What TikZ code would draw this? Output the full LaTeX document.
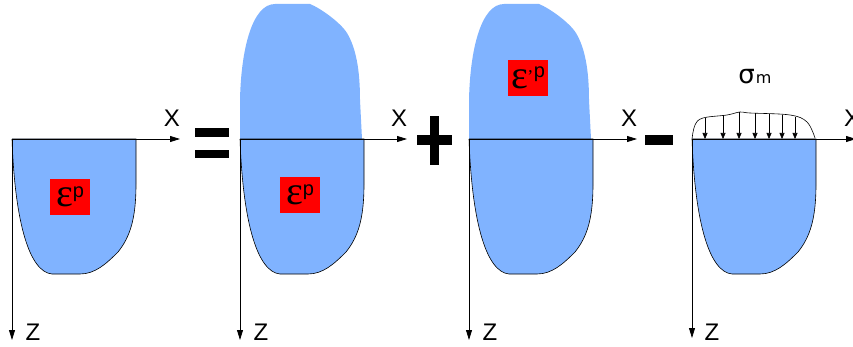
\documentclass[tikz,border=0pt]{standalone}
\usepackage{fontspec}
\setmainfont{Liberation Sans}
\newfontfamily\grk{Liberation Serif}
\newfontfamily\dvs{DejaVu Sans}
\usetikzlibrary{arrows.meta}
\definecolor{fillblue}{HTML}{80B3FF}
\tikzset{
  axisline/.style={line width=0.8pt, -{Triangle[length=10pt,width=6pt]}},
  lowerbody/.style={fill=fillblue, draw=black, line width=0.6pt},
  upperbody/.style={fill=fillblue},
  axlabel/.style={inner sep=0pt, font=\fontsize{24}{24}\selectfont},
  epsbox/.style={fill=red, minimum width=40pt, minimum height=36pt, inner sep=0pt},
  loadarrow/.style={line width=0.6pt, -{Triangle[length=6pt,width=5pt]}},
  opbar/.style={fill=black},
  pics/lowershape/.style={code={
    \path[lowerbody] (0,0) -- (124,0) -- (124,45) .. controls (124,80) and (118,98) .. (106,113)
      .. controls (94,125) and (83,135) .. (68,135) -- (40,135)
      .. controls (18,133) and (3,86) .. (0,0);
  }},
  pics/uppershape/.style={code={
    \path[upperbody] (0,0) -- (0,-39) .. controls (1,-89) and (12,-135) .. (35,-135) -- (70,-135)
      .. controls (80,-131) and (100,-117) .. (107,-106)
      .. controls (116,-91) and (120,-69) .. (120,-39) -- (122,0) -- cycle;
  }}
}
\newcommand{\epsp}{{\grk\fontsize{40}{40}\selectfont ε}\raisebox{9pt}{\fontsize{20}{20}\selectfont p}}
\newcommand{\epspp}{{\grk\fontsize{40}{40}\selectfont ε}\kern-0.5pt\raisebox{6pt}{\grk\fontsize{18}{18}\selectfont ’}\kern0.5pt\raisebox{11pt}{\fontsize{20}{20}\selectfont p}}
\begin{document}
\begin{tikzpicture}[x=1pt,y=-1pt]
\useasboundingbox (0,0) rectangle (853,347);
% ---------- panel 1
\begin{scope}[shift={(12,139)}]
  \pic {lowershape};
  \coordinate (o1) at (0,0);
  \coordinate (x1) at (168,0);
  \coordinate (z1) at (0,201);
  \draw[axisline] (o1) -- (x1);
  \draw[axisline] (o1) -- (z1);
  \node[axlabel] (lx1) at (160,-21) {X};
  \node[axlabel] (lz1) at (21,193) {Z};
  \node[epsbox] (e1) at (58,58) {\epsp};
\end{scope}
% equals
\fill[opbar] (195,128) rectangle (229,137);
\fill[opbar] (195,150) rectangle (229,158);
% ---------- panel 2
\begin{scope}[shift={(240,139)}]
  \pic {uppershape};
  \pic {lowershape};
  \coordinate (o2) at (0,0);
  \coordinate (x2) at (167,0);
  \coordinate (z2) at (0,201);
  \draw[axisline] (o2) -- (x2);
  \draw[axisline] (o2) -- (z2);
  \node[axlabel] (lx2) at (159,-21) {X};
  \node[axlabel] (lz2) at (21,193) {Z};
  \node[epsbox] (e2) at (60,56) {\epsp};
\end{scope}
% plus
\fill[opbar] (417,135) rectangle (452,145);
\fill[opbar] (430,116) rectangle (439,165);
% ---------- panel 3
\begin{scope}[shift={(469,139)}]
  \pic {uppershape};
  \pic {lowershape};
  \coordinate (o3) at (0,0);
  \coordinate (x3) at (168,0);
  \coordinate (z3) at (0,201);
  \draw[axisline] (o3) -- (x3);
  \draw[axisline] (o3) -- (z3);
  \node[axlabel] (lx3) at (160,-21) {X};
  \node[axlabel] (lz3) at (21,193) {Z};
  \node[epsbox] (e3) at (59,-61) {\epspp};
\end{scope}
% minus
\fill[opbar] (645,135) rectangle (673,145);
% ---------- panel 4
\begin{scope}[shift={(692,139)}]
  \pic {lowershape};
  \draw[line width=0.6pt] plot[smooth, tension=0.6] coordinates
    {(0,0) (3,-14) (11,-21) (35,-24) (48,-27) (58,-26) (98,-24) (115,-17) (123,-1)};
  \foreach \xx/\yy [count=\i] in {13/-21,31/-24,47/-27,63/-26,77/-25,90/-24,103/-22} {
    \coordinate (ls\i) at (\xx,\yy);
    \coordinate (le\i) at (\xx,0);
    \draw[loadarrow] (ls\i) -- (le\i);
  }
  \coordinate (o4) at (0,0);
  \coordinate (x4) at (164,0);
  \coordinate (z4) at (0,199);
  \draw[axisline] (o4) -- (x4);
  \draw[axisline] (o4) -- (z4);
  \node[axlabel] (lx4) at (160,-21) {X};
  \node[axlabel] (lz4) at (20,193) {Z};
  \node[inner sep=0pt] (sig) at (63,-62) {{\dvs\fontsize{26}{26}\selectfont σ}\kern1pt{\dvs\fontsize{16}{16}\selectfont m}};
\end{scope}
\end{tikzpicture}
\end{document}
